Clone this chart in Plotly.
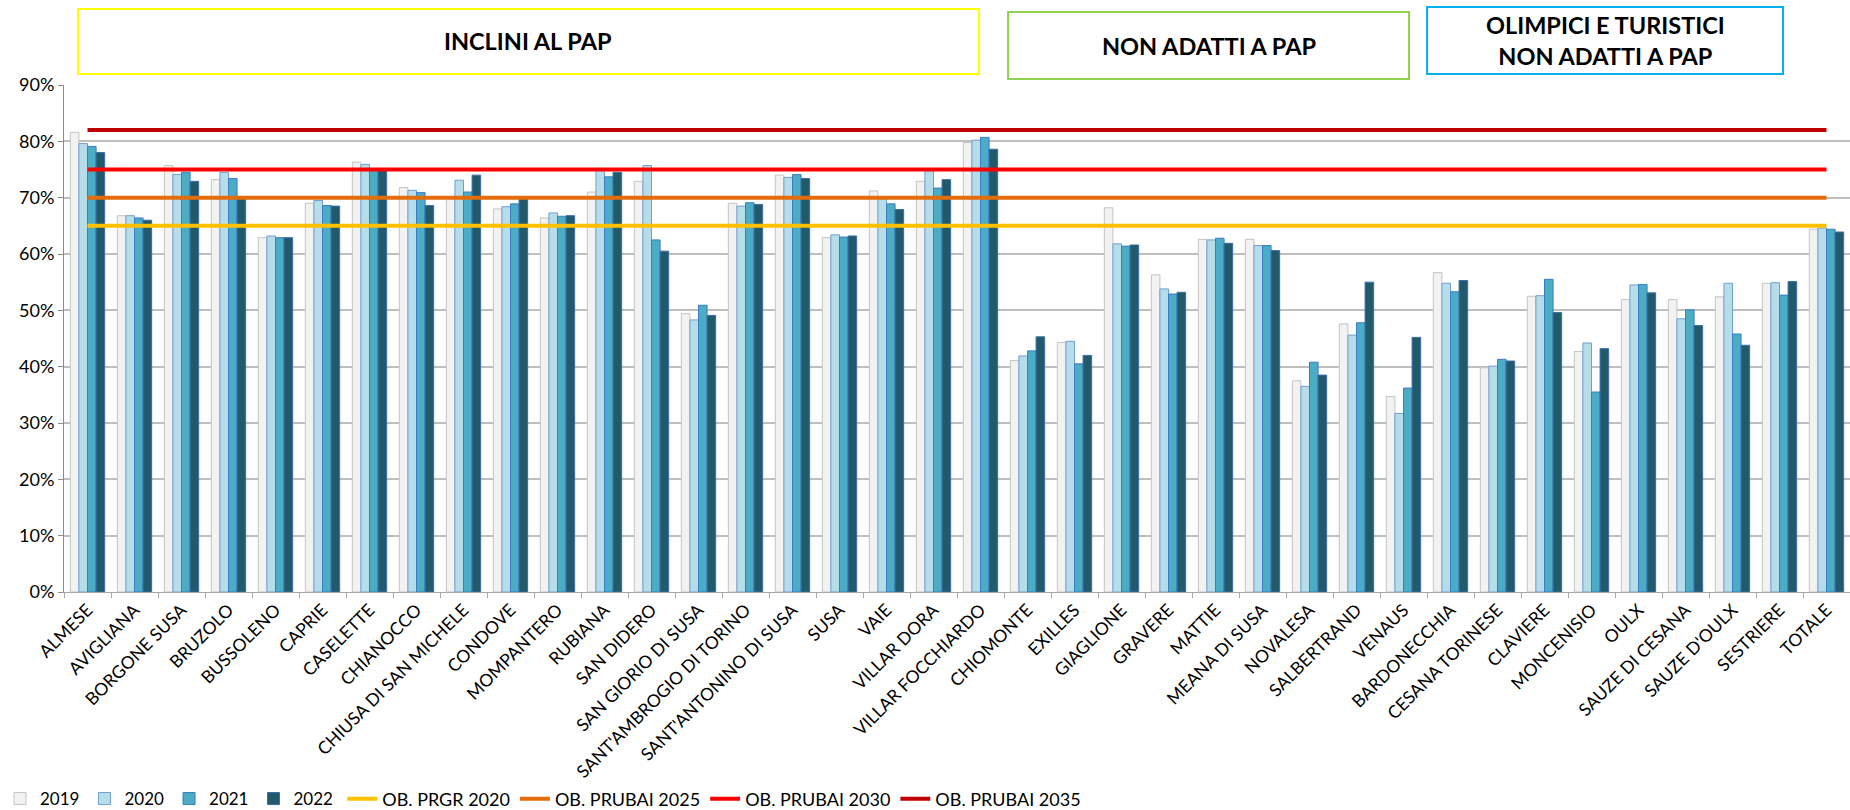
import plotly.graph_objects as go

# comuni e percentuali di raccolta differenziata
comuni = ["ALMESE", "AVIGLIANA", "BORGONE SUSA", "BRUZOLO", "BUSSOLENO", "CAPRIE",
          "CASELETTE", "CHIANOCCO", "CHIUSA DI SAN MICHELE", "CONDOVE", "MOMPANTERO",
          "RUBIANA", "SAN DIDERO", "SAN GIORIO DI SUSA", "SANT'AMBROGIO DI TORINO",
          "SANT'ANTONINO DI SUSA", "SUSA", "VAIE", "VILLAR DORA", "VILLAR FOCCHIARDO",
          "CHIOMONTE", "EXILLES", "GIAGLIONE", "GRAVERE", "MATTIE", "MEANA DI SUSA",
          "NOVALESA", "SALBERTRAND", "VENAUS", "BARDONECCHIA", "CESANA TORINESE",
          "CLAVIERE", "MONCENISIO", "OULX", "SAUZE DI CESANA", "SAUZE D'OULX",
          "SESTRIERE", "TOTALE"]

v2019 = [81.6, 66.8, 75.7, 73.2, 62.9, 69.0, 76.3, 71.8, 70.0, 68.0, 66.4, 71.0, 72.9,
         49.4, 69.0, 74.0, 62.9, 71.2, 72.9, 79.8, 41.1, 44.3, 68.2, 56.3, 62.6, 62.6,
         37.5, 47.6, 34.7, 56.7, 39.8, 52.5, 42.7, 51.9, 51.9, 52.4, 54.8, 64.4]
v2020 = [79.6, 66.8, 74.1, 74.5, 63.2, 69.5, 75.9, 71.3, 73.1, 68.4, 67.3, 75.2, 75.7,
         48.3, 68.5, 73.6, 63.4, 69.8, 75.0, 80.2, 41.9, 44.5, 61.8, 53.8, 62.5, 61.5,
         36.5, 45.6, 31.7, 54.8, 40.1, 52.6, 44.2, 54.5, 48.5, 54.8, 54.9, 64.6]
v2021 = [79.1, 66.4, 74.5, 73.4, 62.9, 68.6, 75.1, 70.9, 71.0, 68.9, 66.7, 73.7, 62.5,
         50.9, 69.1, 74.1, 63.0, 68.9, 71.7, 80.7, 42.8, 40.5, 61.4, 52.9, 62.8, 61.5,
         40.8, 47.8, 36.2, 53.3, 41.3, 55.5, 35.5, 54.6, 50.1, 45.8, 52.7, 64.4]
v2022 = [78.0, 66.0, 72.9, 69.9, 62.9, 68.5, 74.9, 68.6, 74.0, 69.7, 66.8, 74.5, 60.5,
         49.1, 68.8, 73.4, 63.2, 67.9, 73.2, 78.6, 45.3, 42.0, 61.6, 53.2, 61.9, 60.6,
         38.5, 55.0, 45.2, 55.3, 41.0, 49.6, 43.2, 53.1, 47.3, 43.8, 55.1, 63.9]

# obiettivi
ob_prgr_2020 = 65
ob_prubai_2025 = 70
ob_prubai_2030 = 75
ob_prubai_2035 = 82

FONT = "Lato, 'Open Sans', sans-serif"

fig = go.Figure()

barre = [("2019", v2019, "#F2F2F2", "#C4C4C4"),
         ("2020", v2020, "#B7DEE8", "#6F9FD3"),
         ("2021", v2021, "#4BACC6", "#3B7DC4"),
         ("2022", v2022, "#215A6B", "#3C6DAA")]
for nome, vals, fill, bordo in barre:
    fig.add_trace(go.Bar(x=comuni, y=vals, name=nome, legend="legend",
                         marker=dict(color=fill, line=dict(color=bordo, width=1))))

linee = [("OB. PRGR 2020", ob_prgr_2020, "#FFC000"),
         ("OB. PRUBAI 2025", ob_prubai_2025, "#E46C0A"),
         ("OB. PRUBAI 2030", ob_prubai_2030, "#FF0000"),
         ("OB. PRUBAI 2035", ob_prubai_2035, "#C00000")]
for nome, val, col in linee:
    fig.add_trace(go.Scatter(x=comuni, y=[val] * len(comuni), name=nome, mode="lines",
                             legend="legend2", line=dict(color=col, width=4)))

# riquadri dei gruppi
riquadri = [(0.0078, 0.5123, 1.0217, 1.1499, "#FFFF00", "INCLINI AL PAP"),
            (0.5286, 0.7531, 1.0118, 1.1440, "#92D050", "NON ADATTI A PAP"),
            (0.7632, 0.9625, 1.0217, 1.1538, "#00B0F0", "OLIMPICI E TURISTICI<br>NON ADATTI A PAP")]
for x0, x1, y0, y1, col, testo in riquadri:
    fig.add_shape(type="rect", xref="paper", yref="paper", x0=x0, x1=x1, y0=y0, y1=y1,
                  line=dict(color=col, width=2), fillcolor="white")
    fig.add_annotation(xref="paper", yref="paper", x=(x0 + x1) / 2, y=(y0 + y1) / 2,
                       xanchor="center", yanchor="middle",
                       text="<b>" + testo + "</b>", showarrow=False,
                       font=dict(family=FONT, size=23.5, color="black"))

fig.update_layout(
    width=1850, height=810,
    margin=dict(l=64, r=0, t=85, b=218, autoexpand=False),
    paper_bgcolor="white", plot_bgcolor="white",
    barmode="group", bargap=0.27, bargroupgap=0,
    font=dict(family=FONT, size=17, color="black"),
    showlegend=True,
    legend=dict(orientation="h", xref="container", x=0, xanchor="left",
                yref="container", y=0.0136, yanchor="middle",
                font=dict(size=17), itemwidth=30),
    legend2=dict(orientation="h", xref="container", x=0.185, xanchor="left",
                 yref="container", y=0.0136, yanchor="middle",
                 font=dict(size=18), itemwidth=30),
)
fig.update_xaxes(type="category", tickangle=-45, tickfont=dict(size=17.5),
                 showline=True, linecolor="#A6A6A6", linewidth=1,
                 ticks="outside", tickson="boundaries", ticklen=5, tickcolor="#A6A6A6",
                 showgrid=False)
fig.update_yaxes(range=[0, 90], dtick=10, ticksuffix="%", tickfont=dict(size=18),
                 showline=True, linecolor="#8C8C8C", linewidth=1,
                 ticks="outside", ticklen=5, tickcolor="#8C8C8C",
                 showgrid=True, gridcolor="#BFBFBF", gridwidth=1.5, zeroline=False)

fig.write_html("out.html", config={"displayModeBar": False},
               post_script="document.body.style.margin = '0';")
